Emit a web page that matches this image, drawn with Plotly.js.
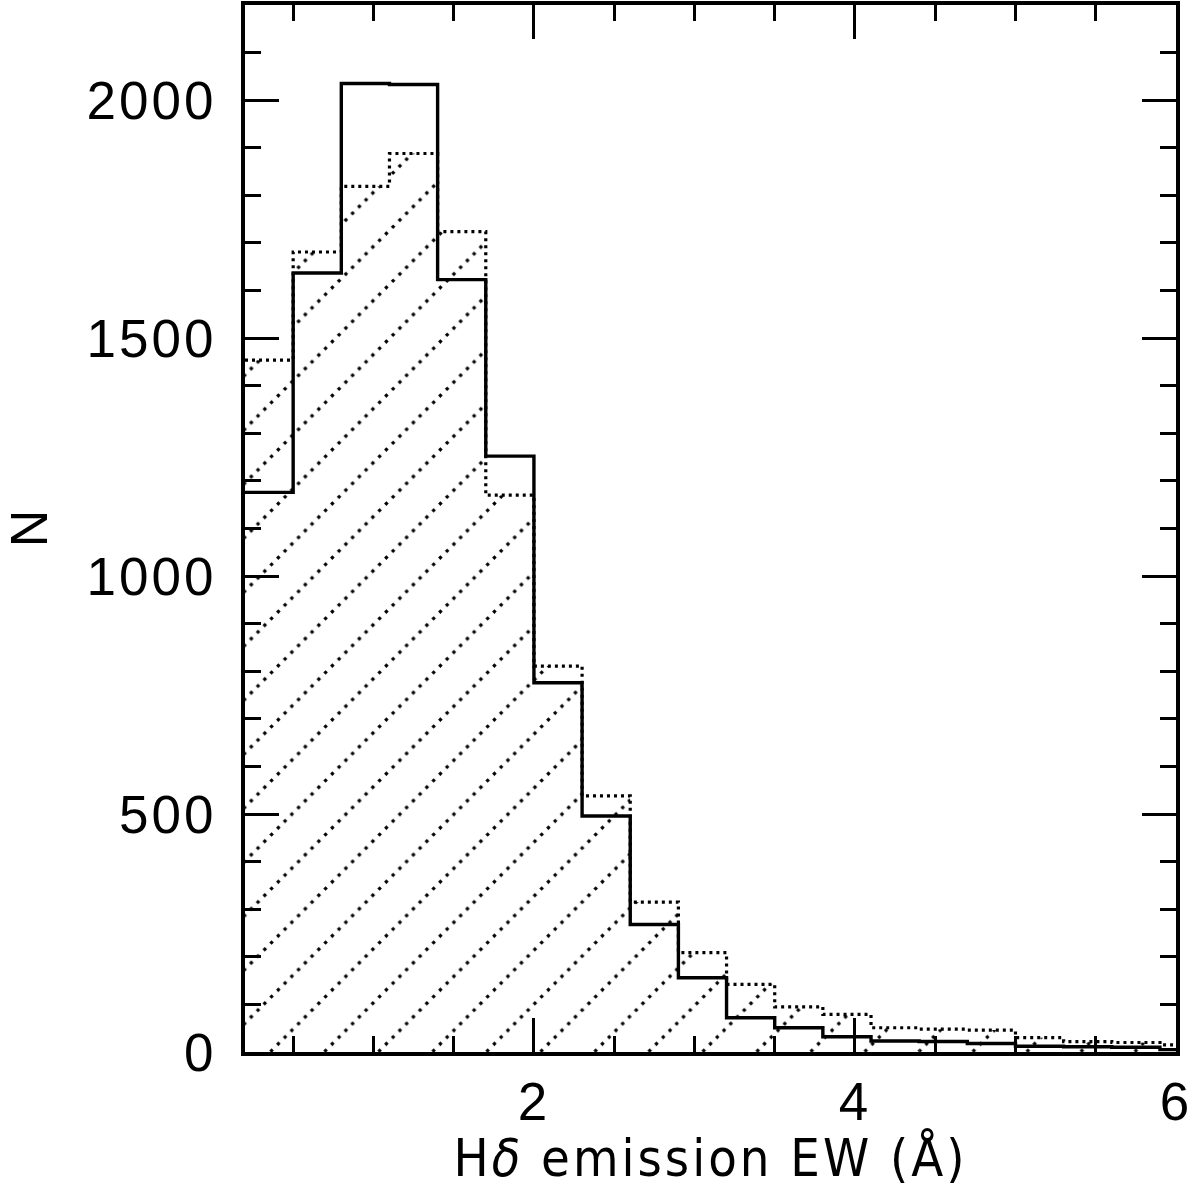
<!DOCTYPE html>
<html>
<head>
<meta charset="utf-8">
<script src="https://cdn.plot.ly/plotly-3.0.1.min.js"></script>
<style>
  html, body { margin: 0; padding: 0; background: #fff; }
  .xtick text, .ytick text { letter-spacing: 3px; }
  .g-xtitle text { letter-spacing: 3px; }
</style>
</head>
<body>
<div id="chart" style="width:1202px;height:1188px"></div>
<script>
// Distribution of H-delta emission equivalent widths, 0.3 Å bins
const binEdges = [0.2, 0.5, 0.8, 1.1, 1.4, 1.7, 2.0, 2.3, 2.6, 2.9, 3.2,
                  3.5, 3.8, 4.1, 4.4, 4.7, 5.0, 5.3, 5.6, 5.9, 6.2];
// solid outline
const countsSolid = [1176, 1637, 2035, 2033, 1623, 1252, 776, 496, 268, 156,
                     72, 51, 32, 23, 22, 18, 12, 11, 10, 5];
// dotted outline, hatched underneath
const countsDotted = [1454, 1681, 1819, 1888, 1724, 1170, 811, 538, 315, 209,
                      142, 95, 79, 51, 48, 46, 30, 22, 20, 15];

const xTickVals = [2, 4, 6];
const yTickVals = [0, 500, 1000, 1500, 2000];
const xTitle = 'H<i>δ</i> emission EW (Å)';
const yTitle = 'N';

const binCenters = binEdges.slice(0, -1).map((e, i) => (e + binEdges[i + 1]) / 2);
const binWidths = binEdges.slice(0, -1).map((e, i) => binEdges[i + 1] - e);
const stepY = c => c.concat([c[c.length - 1]]);

const tickFont = { family: 'Liberation Sans, Arial, sans-serif', size: 53, color: '#000' };

const traces = [
  {
    type: 'bar',
    x: binCenters,
    y: countsDotted,
    width: binWidths,
    marker: {
      color: 'rgba(255,255,255,0)',
      line: { width: 0 },
      pattern: { shape: '/', size: 38.2, solidity: 0.085, fgcolor: '#000',
                 bgcolor: 'rgba(255,255,255,0)', fillmode: 'replace' }
    },
    hoverinfo: 'skip'
  },
  {
    type: 'scatter', mode: 'lines',
    x: binEdges, y: stepY(countsDotted),
    line: { shape: 'hv', color: '#000', width: 3.2, dash: '3px,4px' },
    hoverinfo: 'skip'
  },
  {
    type: 'scatter', mode: 'lines',
    x: binEdges, y: stepY(countsSolid),
    line: { shape: 'hv', color: '#000', width: 3.4 },
    hoverinfo: 'skip'
  }
];

const axisCommon = {
  showline: true, linewidth: 4, linecolor: '#000', mirror: 'ticks',
  ticks: 'inside', ticklen: 34, tickwidth: 3, tickcolor: '#000',
  showgrid: false, zeroline: false, tickfont: tickFont,
  tickmode: 'array'
};

const layout = {
  width: 1202, height: 1188,
  margin: { l: 245, r: 26, t: 5, b: 136 },
  paper_bgcolor: '#fff', plot_bgcolor: '#fff',
  showlegend: false,
  barmode: 'overlay',
  xaxis: Object.assign({}, axisCommon, {
    range: [0.2, 6],
    tickvals: xTickVals,
    ticktext: xTickVals.map(String),
    ticklabelstandoff: 0,
    minor: { tick0: 0, dtick: 0.5, ticks: 'inside', ticklen: 16, tickwidth: 3, tickcolor: '#000', showgrid: false },
    title: { text: xTitle, standoff: 47,
             font: { family: 'DejaVu Sans Condensed, DejaVu Sans, sans-serif', size: 52, color: '#000' } }
  }),
  yaxis: Object.assign({}, axisCommon, {
    range: [0, 2200],
    tickvals: yTickVals,
    ticktext: yTickVals.map(String),
    ticklabelstandoff: 14,
    minor: { tick0: 0, dtick: 100, ticks: 'inside', ticklen: 16, tickwidth: 3, tickcolor: '#000', showgrid: false },
    title: { text: yTitle, standoff: 24,
             font: { family: 'Liberation Sans, Arial, sans-serif', size: 52, color: '#000' } }
  })
};

Plotly.newPlot('chart', traces, layout, { staticPlot: true, displayModeBar: false }).then(gd => {
  // turn the hatch lines into dotted lines and shift their phase
  gd.querySelectorAll('pattern').forEach(p => {
    p.setAttribute('x', '45.7');
    p.querySelectorAll('path').forEach(path => {
      path.style.strokeDasharray = '3.2 6.35';
    });
  });
});
</script>
</body>
</html>
